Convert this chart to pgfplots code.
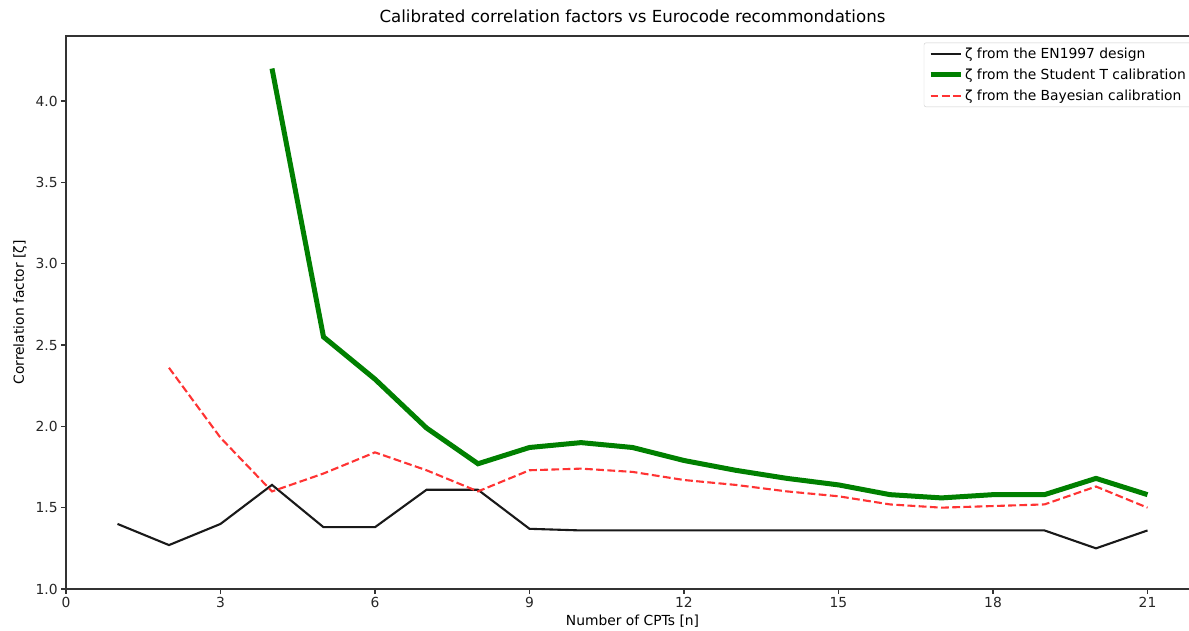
\documentclass[border=0pt]{standalone}
\usepackage{fontspec}
\setmainfont{DejaVu Sans}
\usepackage{pgfplots}
\pgfplotsset{compat=1.18}

\definecolor{mplgreen}{rgb}{0,0.5,0}
\definecolor{mplred}{rgb}{1,0.2,0.2}
\definecolor{legframe}{gray}{0.8}
\newcommand{\tickfont}{\fontsize{13.9}{16}\selectfont}
\newcommand{\titlefont}{\fontsize{16.7}{20}\selectfont}

\begin{document}
\begin{tikzpicture}[x=1bp,y=1bp]
\path[use as bounding box] (0,0) rectangle (1189,631);
\clip (0,0) rectangle (1189,631);
\begin{axis}[
  at={(66bp,42bp)}, anchor=south west,
  scale only axis, width=1133bp, height=553bp,
  xmin=0, xmax=22, ymin=1, ymax=4.4,
  xtick={0,3,...,21},
  ytick={1,1.5,...,4},
  yticklabel style={/pgf/number format/.cd, fixed, fixed zerofill, precision=1},
  /pgf/number format/assume math mode=true,
  tick align=outside, tick pos=left,
  major tick length=4.9bp,
  tick style={black!80, line width=1.1bp},
  axis line style={black!80, line width=1.1bp},
  ticklabel style={font=\tickfont, text=black!85},
  title={Calibrated correlation factors vs Eurocode recommondations},
  title style={font=\titlefont, at={(axis description cs:0.5,1)}, anchor=base, yshift=8bp},
  xlabel={Number of CPTs [n]},
  xlabel style={font=\tickfont, at={(axis description cs:0.5,0)}, anchor=base, yshift=-37bp},
  ylabel={Correlation factor [ζ]},
  ylabel style={font=\tickfont, at={(axis description cs:-0.0371,0.5)}, anchor=base},
  legend cell align=left,
  legend image code/.code={\draw[#1] (0bp,0bp) -- (30bp,0bp);},
  legend style={at={(rel axis cs:0.9938,0.988)}, anchor=north east,
    draw=legframe, rounded corners=2bp, font=\tickfont, row sep=5bp,
    inner xsep=4bp, inner ysep=3bp},
]
% design values from EN 1997
\addplot[black!90, line width=2.1bp] coordinates {
  (1,1.40) (2,1.27) (3,1.40) (4,1.64) (5,1.38) (6,1.38) (7,1.61) (8,1.61)
  (9,1.37) (10,1.36) (11,1.36) (12,1.36) (13,1.36) (14,1.36) (15,1.36)
  (16,1.36) (17,1.36) (18,1.36) (19,1.36) (20,1.25) (21,1.36)
};
\addlegendentry{ζ from the EN1997 design}
% Student T calibration
\addplot[mplgreen, line width=5bp] coordinates {
  (4,4.20) (5,2.55) (6,2.29) (7,1.99) (8,1.77) (9,1.87) (10,1.90) (11,1.87)
  (12,1.79) (13,1.73) (14,1.68) (15,1.64) (16,1.58) (17,1.56) (18,1.58)
  (19,1.58) (20,1.68) (21,1.58)
};
\addlegendentry{ζ from the Student T calibration}
% Bayesian calibration
\addplot[mplred, line width=2.1bp, dash pattern=on 7.8bp off 3.4bp] coordinates {
  (2,2.36) (3,1.93) (4,1.60) (5,1.71) (6,1.84) (7,1.73) (8,1.60) (9,1.73)
  (10,1.74) (11,1.72) (12,1.67) (13,1.64) (14,1.60) (15,1.57) (16,1.52)
  (17,1.50) (18,1.51) (19,1.52) (20,1.63) (21,1.50)
};
\addlegendentry{ζ from the Bayesian calibration}
\end{axis}
\end{tikzpicture}
\end{document}
